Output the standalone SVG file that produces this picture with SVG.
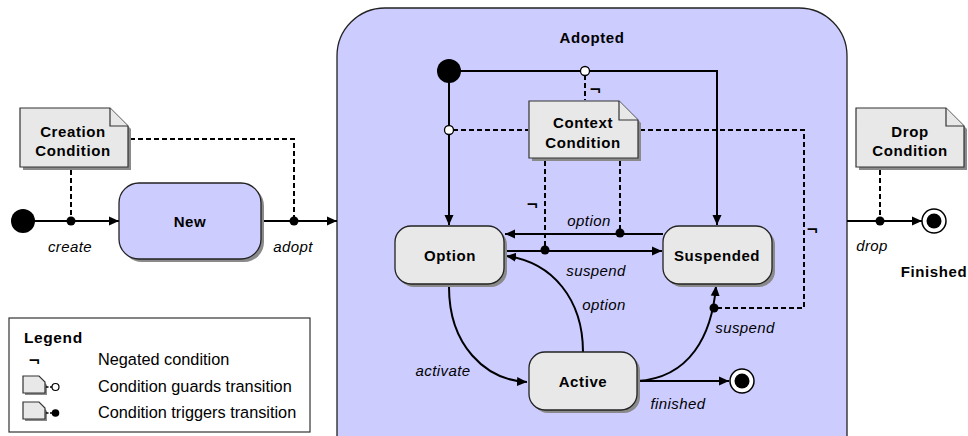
<svg xmlns="http://www.w3.org/2000/svg" width="968" height="436" viewBox="0 0 968 436">
<defs>
<marker id="ah" viewBox="0 0 10 10" refX="10" refY="5" markerWidth="10" markerHeight="10" markerUnits="userSpaceOnUse" orient="auto">
<path d="M0,0.5 L10,5 L0,9.5 Z" fill="#000"/>
</marker>
</defs>
<style>
.txt{font-family:"Liberation Sans",Arial,sans-serif;fill:#000}
.b{font-weight:bold;font-size:15px;letter-spacing:0.6px;text-anchor:middle}
.i{font-style:italic;font-size:15px;letter-spacing:0.4px;text-anchor:middle}
.lg{font-size:16.3px}
.neg{font-size:15px;font-weight:bold;font-family:"DejaVu Sans",sans-serif}
.line{fill:none;stroke:#000;stroke-width:2}
.dash{fill:none;stroke:#000;stroke-width:2;stroke-dasharray:5,3}
.state{fill:#e8e8e8;stroke:#222;stroke-width:1.3}
.newst{fill:#ccccff;stroke:#222;stroke-width:1.3}
.shadow{fill:#8a8a8a}
.note{fill:#e8e8e8;stroke:#333;stroke-width:1.2}
.dot{fill:#000}
.odot{fill:#fff;stroke:#000;stroke-width:1.3}
</style>
<rect width="968" height="436" fill="#fff"/>

<!-- Adopted composite state -->
<g id="adopted">
<path d="M337,460 V56 A48,48 0 0 1 385,8 H799 A48,48 0 0 1 847,56 V460 Z" fill="#ccccff" stroke="#222" stroke-width="1.3"/>
<text class="txt b" x="592" y="43">Adopted</text>
</g>

<!-- connectors -->
<g id="connectors">
<!-- left -->
<line class="line" x1="23" y1="221" x2="119" y2="221" marker-end="url(#ah)"/>
<line class="dash" x1="71" y1="170" x2="71" y2="221"/>
<circle class="dot" cx="71" cy="221" r="4.5"/>
<line class="line" x1="261" y1="221" x2="337" y2="221" marker-end="url(#ah)"/>
<polyline class="dash" points="130,139 294,139 294,221"/>
<circle class="dot" cx="294" cy="221" r="4.5"/>
<!-- drop -->
<line class="line" x1="847" y1="221" x2="922" y2="221" marker-end="url(#ah)"/>
<line class="dash" x1="880" y1="170" x2="880" y2="221"/>
<circle class="dot" cx="880" cy="221" r="4.5"/>
<!-- adopted initial -->
<polyline class="line" points="449,71 717,71 717,225" marker-end="url(#ah)"/>
<line class="line" x1="449" y1="71" x2="449" y2="225" marker-end="url(#ah)"/>
<line class="dash" x1="585" y1="75" x2="585" y2="100"/>
<circle class="odot" cx="585" cy="71" r="4.5"/>
<line class="dash" x1="453" y1="130" x2="528" y2="130"/>
<circle class="odot" cx="449" cy="130" r="4.5"/>
<!-- option / suspend between Option and Suspended -->
<line class="line" x1="663" y1="234" x2="505" y2="234" marker-end="url(#ah)"/>
<line class="line" x1="504" y1="251" x2="662" y2="251" marker-end="url(#ah)"/>
<line class="dash" x1="545" y1="161" x2="545" y2="251"/>
<line class="dash" x1="620" y1="161" x2="620" y2="234"/>
<circle class="dot" cx="545" cy="250" r="4.5"/>
<circle class="dot" cx="620" cy="233" r="4.5"/>
<!-- context to active->suspended -->
<polyline class="dash" points="640,130 804,130 804,308 716,308"/>
<!-- curves -->
<path class="line" d="M449,287 C449,345 485,380 527,382" marker-end="url(#ah)"/>
<path class="line" d="M583,352 C583,300 553,262 506,256" marker-end="url(#ah)"/>
<path class="line" d="M637,381 C690,378 712,335 716,286" marker-end="url(#ah)"/>
<circle class="dot" cx="714" cy="308" r="4.5"/>
<line class="line" x1="637" y1="381" x2="729" y2="381" marker-end="url(#ah)"/>
</g>

<!-- negation marks -->
<g id="negations">
<text class="txt neg" x="589" y="95">¬</text>
<text class="txt neg" x="526" y="210">¬</text>
<text class="txt neg" x="806" y="235">¬</text>
</g>

<!-- labels -->
<g id="labels">
<text class="txt i" x="70" y="252">create</text>
<text class="txt i" x="293" y="252">adopt</text>
<text class="txt i" x="872" y="251">drop</text>
<text class="txt b" x="934" y="277">Finished</text>
<text class="txt i" x="589" y="226">option</text>
<text class="txt i" x="596" y="276">suspend</text>
<text class="txt i" x="604" y="310">option</text>
<text class="txt i" x="443" y="376">activate</text>
<text class="txt i" x="745" y="333">suspend</text>
<text class="txt i" x="678" y="409">finished</text>
</g>

<!-- initial states -->
<g id="init-main"><circle class="dot" cx="23" cy="221" r="12"/></g>
<g id="init-adopted"><circle class="dot" cx="449" cy="71" r="12"/></g>

<!-- final states -->
<g id="final-main">
<circle cx="934" cy="221" r="12" fill="#fff" stroke="#000" stroke-width="1.5"/>
<circle class="dot" cx="934" cy="221" r="7.5"/>
</g>
<g id="final-adopted">
<circle cx="742" cy="381" r="12" fill="#fff" stroke="#000" stroke-width="1.5"/>
<circle class="dot" cx="742" cy="381" r="7.5"/>
</g>

<!-- notes -->
<g id="note-creation">
<path class="shadow" d="M23,111 H113 L131,129 V170 H23 Z"/>
<path class="note" d="M20,108 H110 L128,126 V167 H20 Z"/>
<path class="note" d="M110,108 V126 H128"/>
<text class="txt b" x="73" y="137">Creation</text>
<text class="txt b" x="73" y="156">Condition</text>
</g>
<g id="note-context">
<path class="shadow" d="M532,104 H622 L641,123 V161 H532 Z"/>
<path class="note" d="M529,101 H619 L638,120 V158 H529 Z"/>
<path class="note" d="M619,101 V120 H638"/>
<text class="txt b" x="583" y="128">Context</text>
<text class="txt b" x="583" y="148">Condition</text>
</g>
<g id="note-drop">
<path class="shadow" d="M859,111 H949 L967,129 V170 H859 Z"/>
<path class="note" d="M856,108 H946 L964,126 V167 H856 Z"/>
<path class="note" d="M946,108 V126 H964"/>
<text class="txt b" x="910" y="137">Drop</text>
<text class="txt b" x="910" y="156">Condition</text>
</g>

<!-- states -->
<g id="state-new">
<rect class="shadow" x="122" y="186" width="142" height="76" rx="20"/>
<rect class="newst" x="119" y="183" width="142" height="76" rx="20"/>
<text class="txt b" x="190" y="227">New</text>
</g>
<g id="state-option">
<rect class="shadow" x="398" y="229" width="109" height="58" rx="16"/>
<rect class="state" x="395" y="226" width="109" height="58" rx="16"/>
<text class="txt b" x="450" y="261">Option</text>
</g>
<g id="state-suspended">
<rect class="shadow" x="666" y="229" width="109" height="58" rx="16"/>
<rect class="state" x="663" y="226" width="109" height="58" rx="16"/>
<text class="txt b" x="717" y="261">Suspended</text>
</g>
<g id="state-active">
<rect class="shadow" x="532" y="355" width="108" height="58" rx="16"/>
<rect class="state" x="529" y="352" width="108" height="58" rx="16"/>
<text class="txt b" x="583" y="387">Active</text>
</g>

<!-- legend -->
<g id="legend">
<rect x="9" y="318" width="301" height="114" fill="#fff" stroke="#333" stroke-width="1.2"/>
<text class="txt" x="24" y="343" font-weight="bold" font-size="15.5" letter-spacing="0.6">Legend</text>
<text class="txt neg" x="28" y="366">¬</text>
<text class="txt lg" x="98" y="365">Negated condition</text>
<path class="shadow" d="M25,378 H40 L47,385 V395 H25 Z"/>
<path class="note" d="M23,376 H39 L45,382 V393 H23 Z"/>
<line x1="46" y1="387" x2="52" y2="387" stroke="#000" stroke-width="1.5" stroke-dasharray="2.5,1.5"/>
<circle cx="55.5" cy="387" r="3.5" fill="#fff" stroke="#000" stroke-width="1.2"/>
<text class="txt lg" x="98" y="392">Condition guards transition</text>
<path class="shadow" d="M25,404 H40 L47,411 V421 H25 Z"/>
<path class="note" d="M23,402 H39 L45,408 V419 H23 Z"/>
<line x1="46" y1="413" x2="52" y2="413" stroke="#000" stroke-width="1.5" stroke-dasharray="2.5,1.5"/>
<circle cx="55.5" cy="413" r="3.8" fill="#000"/>
<text class="txt lg" x="98" y="418">Condition triggers transition</text>
</g>
</svg>
